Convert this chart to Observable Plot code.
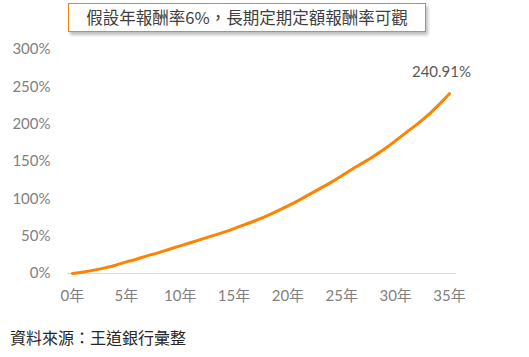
<!DOCTYPE html>
<html>
<head>
<meta charset="utf-8">
<script src="https://cdn.jsdelivr.net/npm/d3@7"></script>
<script src="https://cdn.jsdelivr.net/npm/@observablehq/plot@0.6"></script>
<style>
  html, body { margin: 0; padding: 0; background: #fff; width: 529px; height: 357px; overflow: hidden; }
  #title-wrap { position: relative; height: 36px; }
  #title {
    position: absolute; left: 68px; top: 3px; width: 358px; height: 29px; box-sizing: border-box;
    border: 1.5px solid #f5820f; background: #fff; box-shadow: 2px 3px 3px rgba(0,0,0,0.25);
    font-family: "Noto Sans CJK TC", sans-serif; font-size: 16.5px; color: #404040;
    text-align: center; line-height: 26px;
  }
  #caption {
    height: 41px; box-sizing: border-box; padding-top: 11px; padding-left: 10px;
    font-family: "Noto Sans CJK TC", sans-serif; font-size: 16px; color: #262626; line-height: 20px;
  }
  svg { display: block; }
</style>
</head>
<body>
<div id="title-wrap"><div id="title"></div></div>
<div id="chart"></div>
<div id="caption"></div>
<script>
const titleText = "假設年報酬率6%，長期定期定額報酬率可觀";
const captionText = "資料來源：王道銀行彙整";
const years = [0,1,2,3,4,5,6,7,8,9,10,11,12,13,14,15,16,17,18,19,20,21,22,23,24,25,26,27,28,29,30,31,32,33,34,35];
const returns = [0,2,4.5,7.5,11,15.5,19.5,24,28,32.5,37,41.5,46,50.5,55,60,65.5,71,77,83.5,90.5,98,106,114,122,131,140,148.5,157.5,167,178,189,200,212,226,240.91];
const xTicks = [0,5,10,15,20,25,30,35];
const yTicks = [0,50,100,150,200,250,300];
const endLabel = "240.91%";

document.getElementById("title").textContent = titleText;
document.getElementById("caption").textContent = captionText;

const data = years.map((y, i) => ({year: y, value: returns[i]}));
const font = "Lato, 'Noto Sans CJK TC', sans-serif";

const chart = Plot.plot({
  width: 529,
  height: 280,
  marginTop: 13,
  marginBottom: 43,
  marginLeft: 67,
  marginRight: 73,
  style: {fontFamily: font, fontSize: "15px", color: "#7f7f7f", background: "#fff"},
  x: {domain: [-0.46, 35.65], label: null},
  y: {domain: [0, 300], label: null},
  marks: [
    Plot.ruleY([0], {stroke: "#d9d9d9", strokeWidth: 1}),
    Plot.axisX({ticks: xTicks, tickSize: 0, tickPadding: 17, tickFormat: d => d + "年", fill: "#7f7f7f", fontSize: 15}),
    Plot.axisY({ticks: yTicks, tickSize: 0, tickPadding: 17, tickFormat: d => d + "%", fill: "#7f7f7f", fontSize: 15}),
    Plot.line(data, {x: "year", y: "value", stroke: "#ff8200", strokeWidth: 3, curve: "monotone-x"}),
    Plot.text([data[data.length - 1]], {x: "year", y: "value", text: () => endLabel, dy: -21, dx: -8, fill: "#595959", fontSize: 15})
  ]
});
document.getElementById("chart").appendChild(chart);
</script>
</body>
</html>
